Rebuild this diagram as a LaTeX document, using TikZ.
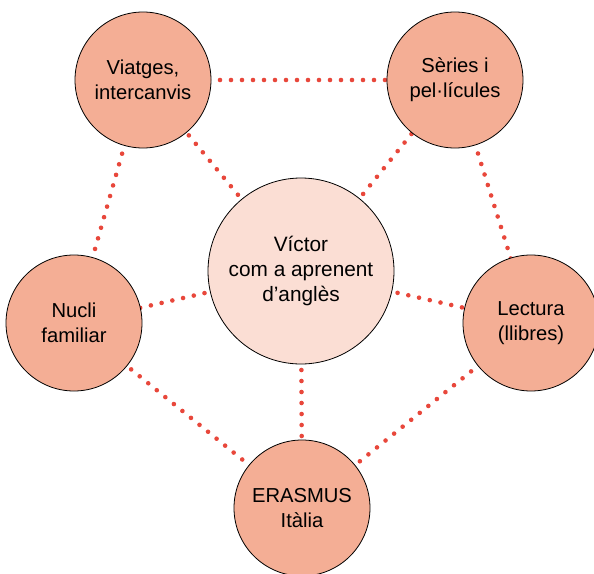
\documentclass[tikz,border=0pt]{standalone}
\usepackage{fontspec}
\setmainfont{Liberation Sans}
\definecolor{outerfill}{HTML}{F4AE95}
\definecolor{innerfill}{HTML}{FBDED4}
\definecolor{dotred}{HTML}{E8473B}
\begin{document}
\begin{tikzpicture}[x=1pt,y=-1pt,
  outer/.style={circle,draw=black,line width=0.8pt,fill=outerfill,minimum size=136pt,inner sep=0pt,align=center,font=\fontsize{20.2}{25}\selectfont},
  inner/.style={circle,draw=black,line width=0.8pt,fill=innerfill,minimum size=186pt,inner sep=0pt,align=center,font=\fontsize{20.8}{25}\selectfont},
  dotline/.style={draw=dotred,line width=4.6pt,line cap=round,dash pattern=on 0pt off 11pt}]
\useasboundingbox (0,0) rectangle (594,573);
\begin{scope}
\clip (0,0) rectangle (594,573);
\coordinate (pC) at (301,271);
\coordinate (pTL) at (143,80);
\coordinate (pTR) at (455,80);
\coordinate (pL) at (74,323);
\coordinate (pR) at (531,323);
\coordinate (pB) at (302,508);
\draw[dotline] (pTL) -- (pTR);
\draw[dotline] (pTR) -- (pR);
\draw[dotline] (pR) -- (pB);
\draw[dotline] (pB) -- (pL);
\draw[dotline] (pL) -- (pTL);
\draw[dotline] (pC) -- (pTL);
\draw[dotline] (pC) -- (pTR);
\draw[dotline] (pC) -- (pL);
\draw[dotline] (pC) -- (pR);
\draw[dotline] (pC) -- (pB);
\node[inner] (c) at (pC) {Víctor\\com a aprenent\\d'anglès};
\node[outer] (tl) at (pTL) {Viatges,\\intercanvis};
\node[outer] (tr) at (pTR) {Sèries i\\pel·lícules};
\node[outer] (l) at (pL) {Nucli\\familiar};
\node[outer] (r) at (pR) {Lectura\\(llibres)};
\node[outer] (b) at (pB) {ERASMUS\\Itàlia};
\end{scope}
\end{tikzpicture}
\end{document}
